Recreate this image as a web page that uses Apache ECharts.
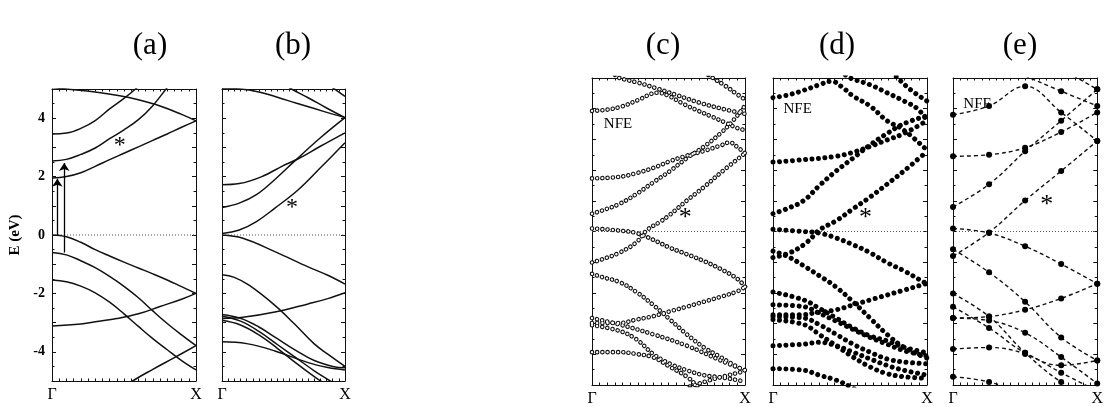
<!DOCTYPE html>
<html>
<head>
<meta charset="utf-8">
<title>band structures</title>
<script src="https://cdn.jsdelivr.net/npm/echarts@6/dist/echarts.min.js"></script>
<style>
html, body { margin: 0; padding: 0; background: #fff; }
#chart { width: 1106px; height: 407px; }
</style>
</head>
<body>
<div id="chart"></div>
<script>
// k runs from Γ (0) to X (1), energies
var panelNames = ['(a)', '(b)', '(c)', '(d)', '(e)'];
var kLabels = ['Γ', 'X'];
var eTicks = [-4, -2, 0, 2, 4];
var zeroLine = [[0, 0], [1, 0]];

// (a)
var aVal1 = [[0,0],[0.1,-0.06],[0.2,-0.25],[0.3,-0.5],[0.4,-0.72],[0.5,-0.93],[0.6,-1.13],[0.7,-1.33],[0.8,-1.54],[0.9,-1.77],[1,-2.0]];
var aVal2 = [[0,-0.6],[0.1,-0.68],[0.2,-0.88],[0.3,-1.12],[0.4,-1.42],[0.5,-1.76],[0.6,-2.15],[0.7,-2.6],[0.8,-3.03],[0.9,-3.42],[1,-3.79]];
var aVal3 = [[0,-1.54],[0.1,-1.6],[0.2,-1.75],[0.3,-1.98],[0.4,-2.3],[0.5,-2.7],[0.6,-3.13],[0.7,-3.55],[0.8,-3.93],[0.9,-4.3],[1,-4.62]];
var aVal4 = [[0,-3.12],[0.2,-3.05],[0.3,-2.97],[0.45,-2.86],[0.6,-2.7],[0.75,-2.45],[0.9,-2.2],[1,-2.0]];
var aVal5 = [[0.5,-5.25],[0.56,-5.0],[0.7,-4.6],[0.85,-4.2],[1,-3.79]];
var aCon1 = [[0,1.95],[0.1,2.0],[0.2,2.13],[0.3,2.35],[0.4,2.58],[0.5,2.8],[0.6,3.02],[0.7,3.24],[0.8,3.46],[0.9,3.69],[1,3.91]];
var aCon2 = [[0,2.53],[0.1,2.59],[0.2,2.76],[0.3,2.98],[0.4,3.3],[0.5,3.6],[0.6,3.95],[0.7,4.43],[0.8,5.05],[0.85,5.35]];
var aCon3 = [[0,3.46],[0.1,3.49],[0.2,3.65],[0.3,3.92],[0.4,4.32],[0.5,4.68],[0.58,5.0],[0.63,5.25]];
var aCon4 = [[0,5.05],[0.1,5.0],[0.3,4.9],[0.47,4.77],[0.6,4.63],[0.75,4.42],[0.9,4.13],[1,3.91]];
var arrowUp1 = [[0.037,0],[0.037,1.93]];
var arrowUp2 = [[0.085,-0.6],[0.085,2.47]];

// (b)
var bCon1 = [[0,0.05],[0.14,0.17],[0.28,0.46],[0.43,0.92],[0.62,1.55],[0.8,2.3],[1,3.16]];
var bCon2 = [[0,0.94],[0.14,1.09],[0.28,1.38],[0.43,1.9],[0.59,2.53],[0.8,3.33],[1,4.02]];
var bCon3 = [[0,1.72],[0.14,1.76],[0.33,2.01],[0.49,2.36],[0.62,2.61],[0.8,3.04],[1,3.5]];
var bCon4 = [[0,5.02],[0.15,5.0],[0.3,4.9],[0.45,4.72],[0.6,4.52],[0.75,4.33],[0.9,4.14],[1,4.02]];
var bCon5 = [[0.53,5.1],[0.565,5.0],[0.7,4.7],[0.85,4.35],[1,4.02]];
var bCon6 = [[0.88,5.1],[1,4.75]];
var bVal1 = [[0,0],[0.17,-0.11],[0.43,-0.57],[0.7,-1.09],[0.86,-1.38],[1,-1.68]];
var bVal2 = [[0,-1.36],[0.1,-1.45],[0.22,-1.72],[0.43,-2.41],[0.59,-3.05],[0.75,-3.73],[0.86,-4.08],[1,-4.5]];
var bVal3 = [[0,-2.86],[0.17,-2.82],[0.43,-2.64],[0.7,-2.36],[0.86,-2.18],[1,-1.98]];
var bVal4 = [[0,-2.72],[0.15,-2.85],[0.3,-3.15],[0.45,-3.55],[0.6,-3.95],[0.75,-4.3],[0.9,-4.5],[1,-4.55]];
var bVal5 = [[0,-2.78],[0.15,-2.95],[0.3,-3.3],[0.45,-3.75],[0.6,-4.2],[0.75,-4.65],[0.88,-5.0],[0.95,-5.2]];
var bVal6 = [[0,-2.92],[0.15,-3.08],[0.3,-3.42],[0.45,-3.88],[0.6,-4.38],[0.75,-4.85],[0.82,-5.05]];
var bVal7 = [[0,-3.66],[0.2,-3.72],[0.43,-3.97],[0.7,-4.37],[0.86,-4.54],[1,-4.62]];

// (c)
var cR  = [[0,-1.01],[0.07,-0.9],[0.18,-0.69],[0.29,-0.35],[0.36,0.05],[0.44,0.3],[0.51,0.55],[0.62,1.01],[0.73,1.44],[0.84,1.91],[1,2.55]];
var cV1 = [[0,0.1],[0.18,0.03],[0.29,-0.05],[0.4,-0.27],[0.51,-0.53],[0.62,-0.74],[0.73,-0.96],[0.84,-1.22],[0.95,-1.54],[1,-1.8]];
var cV2 = [[0,-1.38],[0.07,-1.49],[0.18,-1.65],[0.29,-1.97],[0.4,-2.39],[0.51,-2.87],[0.62,-3.35],[0.73,-3.77],[0.84,-4.09],[0.95,-4.41],[1,-4.52]];
var cV3 = [[0,-2.98],[0.18,-2.98],[0.29,-2.87],[0.4,-2.76],[0.51,-2.6],[0.62,-2.45],[0.73,-2.29],[0.84,-2.13],[0.95,-1.95],[1,-1.8]];
var cV4 = [[0,-2.82],[0.18,-3.03],[0.4,-3.35],[0.62,-3.72],[0.84,-4.2],[1,-4.52]];
var cV5 = [[0,-3.05],[0.18,-3.24],[0.29,-3.51],[0.4,-3.99],[0.51,-4.31],[0.62,-4.52],[0.73,-4.68],[0.84,-4.75],[0.95,-4.84],[1,-4.89]];
var cV6 = [[0,-3.93],[0.18,-3.93],[0.29,-3.99],[0.4,-4.1],[0.51,-4.41],[0.62,-4.73],[0.68,-5.0],[0.72,-5.2]];
var cV7 = [[0.64,-5.05],[0.8,-4.8],[1,-4.55]];
var cU2 = [[0,0.58],[0.07,0.69],[0.18,0.9],[0.29,1.22],[0.4,1.6],[0.51,1.97],[0.62,2.39],[0.73,2.76],[0.84,3.2],[0.92,3.6],[1,4.1]];
var cU3 = [[0,1.73],[0.18,1.78],[0.29,1.9],[0.4,2.07],[0.51,2.29],[0.62,2.47],[0.73,2.62],[0.84,2.8],[0.9,2.9],[0.95,2.75],[1,2.55]];
var cU4 = [[0,3.93],[0.1,3.97],[0.2,4.08],[0.3,4.28],[0.43,4.52],[0.5,4.42],[0.6,4.15],[0.7,3.92],[0.77,3.77],[0.87,3.55],[0.95,3.37],[1,3.3]];
var cU5 = [[0.15,5.1],[0.18,5.0],[0.3,4.85],[0.43,4.65],[0.55,4.45],[0.7,4.2],[0.85,4.0],[1,3.83]];
var cU6 = [[0.76,5.1],[0.79,5.0],[0.87,4.75],[0.94,4.5],[1,4.3]];

// (d)
var dR  = [[0,-0.85],[0.11,-0.69],[0.2,-0.43],[0.26,-0.16],[0.3,0.05],[0.41,0.35],[0.52,0.74],[0.63,1.12],[0.74,1.54],[0.85,1.97],[1,2.61]];
var dV1 = [[0,0.07],[0.2,0],[0.3,-0.05],[0.41,-0.21],[0.52,-0.43],[0.63,-0.69],[0.74,-1.01],[0.85,-1.28],[0.98,-1.65],[1,-1.7]];
var dV2 = [[0,-0.64],[0.09,-0.8],[0.2,-1.12],[0.3,-1.44],[0.41,-1.81],[0.52,-2.29],[0.63,-2.82],[0.74,-3.35],[0.85,-3.77],[0.98,-4.09],[1,-4.12]];
var dV3 = [[0,-2.71],[0.2,-2.71],[0.26,-2.66],[0.41,-2.55],[0.52,-2.39],[0.63,-2.23],[0.74,-2.07],[0.85,-1.91],[0.98,-1.72],[1,-1.7]];
var dV4 = [[0,-1.97],[0.2,-2.23],[0.3,-2.5],[0.41,-2.82],[0.52,-3.14],[0.63,-3.4],[0.74,-3.56],[0.85,-3.77],[1,-3.95]];
var dV5 = [[0,-2.39],[0.2,-2.45],[0.3,-2.66],[0.41,-2.92],[0.52,-3.19],[0.63,-3.45],[0.74,-3.67],[0.85,-3.88],[1,-4.05]];
var dV6 = [[0,-2.77],[0.2,-2.82],[0.3,-3.03],[0.41,-3.35],[0.52,-3.67],[0.63,-3.93],[0.74,-4.15],[0.85,-4.25],[1,-4.31]];
var dV7 = [[0,-2.87],[0.2,-3.03],[0.3,-3.35],[0.41,-3.72],[0.52,-4.09],[0.63,-4.41],[0.74,-4.63],[0.85,-4.73],[1,-4.78]];
var dV8 = [[0,-3.72],[0.2,-3.67],[0.3,-3.61],[0.41,-3.72],[0.52,-3.93],[0.63,-4.15],[0.74,-4.36],[0.85,-4.52],[1,-4.68]];
var dV9 = [[0,-4.47],[0.2,-4.52],[0.3,-4.68],[0.41,-4.84],[0.5,-5.05],[0.55,-5.2]];
var dU2 = [[0,0.58],[0.09,0.74],[0.2,1.01],[0.3,1.49],[0.41,1.97],[0.52,2.39],[0.63,2.82],[0.74,3.19],[0.85,3.51],[1,3.77]];
var dU3 = [[0,2.26],[0.2,2.34],[0.41,2.45],[0.54,2.61],[0.63,2.77],[0.74,2.98],[0.85,3.19],[1,3.61]];
var dU4 = [[0,4.36],[0.1,4.45],[0.2,4.6],[0.3,4.78],[0.38,4.89],[0.45,4.7],[0.52,4.41],[0.63,4.09],[0.74,3.61],[0.85,3.3],[1,2.65]];
var dU5 = [[0.47,5.1],[0.5,5.0],[0.63,4.78],[0.74,4.52],[0.85,4.25],[0.94,3.99],[1,3.61]];
var dU6 = [[0.8,5.05],[0.89,4.63],[1,4.25]];

// (e) only the computed k points
var eR  = [[0,-0.8],[0.25,-0.03],[0.5,1.01],[0.75,1.97],[1,2.95]];
var eV1 = [[0,0.1],[0.25,-0.05],[0.5,-0.48],[0.75,-1.06],[1,-1.7]];
var eV2 = [[0,-0.58],[0.25,-1.33],[0.5,-2.29],[0.75,-3.45],[1,-4.2]];
var eV3 = [[0,-2.82],[0.25,-2.77],[0.5,-2.55],[0.75,-2.18],[1,-1.7]];
var eV4 = [[0,-2.02],[0.25,-2.77],[0.5,-3.95],[0.75,-4.9],[1,-5.5]];
var eV5 = [[0,-2.45],[0.25,-3.14],[0.5,-3.95],[0.75,-4.36],[1,-4.2]];
var eV6 = [[0,-2.82],[0.25,-2.9],[0.5,-3.3],[0.75,-4.09],[1,-4.95]];
var eV7 = [[0,-3.83],[0.25,-3.78],[0.5,-3.99],[0.75,-4.6],[1,-5.2]];
var eV8 = [[0,-4.73],[0.25,-4.9],[0.5,-5.3]];
var eU2 = [[0,0.8],[0.25,1.54],[0.5,2.61],[0.75,3.61],[1,4.63]];
var eU3 = [[0,2.45],[0.25,2.5],[0.5,2.73],[0.75,3.24],[1,3.88]];
var eU4 = [[0,3.8],[0.25,4.09],[0.5,4.73],[0.75,3.88],[1,2.95]];
var eU5 = [[0.5,5.07],[0.75,4.57],[1,4.09]];
var eU6 = [[0.75,5.3],[1,4.63]];

var panelBands = [
  [aVal1, aVal2, aVal3, aVal4, aVal5, aCon1, aCon2, aCon3, aCon4],
  [bCon1, bCon2, bCon3, bCon4, bCon5, bCon6, bVal1, bVal2, bVal3, bVal4, bVal5, bVal6, bVal7],
  [cR, cV1, cV2, cV3, cV4, cV5, cV6, cV7, cU2, cU3, cU4, cU5, cU6],
  [dR, dV1, dV2, dV3, dV4, dV5, dV6, dV7, dV8, dV9, dU2, dU3, dU4, dU5, dU6],
  [eR, eV1, eV2, eV3, eV4, eV5, eV6, eV7, eV8, eU2, eU3, eU4, eU5, eU6]
];
var panelStyle = ['solid', 'solid', 'open', 'filled', 'dashed'];

var serif = '"Liberation Serif", "DejaVu Serif", serif';
var ink = '#111';

var grids = [
  { left: 52, top: 89, width: 144, height: 292 },
  { left: 222, top: 89, width: 123, height: 292 },
  { left: 592, top: 78, width: 153, height: 313 },
  { left: 773, top: 78, width: 154, height: 312 },
  { left: 953, top: 78, width: 157, height: 312 }
];
var titleX = [150, 293, 663, 837, 1020];

var xAxes = [], yAxes = [], series = [];

function tickAxis(o) {
  o.axisLine = { show: true, onZero: false, lineStyle: { color: ink, width: 1 } };
  o.axisTick = { show: true, inside: true, length: 4, lineStyle: { color: ink } };
  o.minorTick = { show: true, inside: true, length: 2.5, lineStyle: { color: ink } };
  o.splitLine = { show: false };
  o.minorSplitLine = { show: false };
  return o;
}

for (var i = 0; i < grids.length; i++) {
  var xb = tickAxis({ gridIndex: i, type: 'value', min: 0, max: 1, interval: 1, position: 'bottom' });
  xb.minorTick.splitNumber = 20;
  xb.axisLabel = {
    formatter: function (v) { return v === 0 ? kLabels[0] : (v === 1 ? kLabels[1] : ''); },
    fontFamily: serif, fontSize: 16, color: '#000', margin: 6
  };
  var xt = tickAxis({ gridIndex: i, type: 'value', min: 0, max: 1, interval: 1, position: 'top' });
  xt.minorTick.splitNumber = 20;
  xt.axisLabel = { show: false };
  xAxes.push(xb, xt);

  var yl = tickAxis({ gridIndex: i, type: 'value', min: -5, max: 5, interval: 1, position: 'left' });
  yl.minorTick.splitNumber = 2;
  if (i === 0) {
    yl.axisLabel = {
      formatter: function (v) { return eTicks.indexOf(v) >= 0 ? String(v) : ''; },
      fontFamily: serif, fontSize: 14, fontWeight: 'bold', color: '#000', margin: 7
    };
    yl.name = 'E (eV)';
    yl.nameLocation = 'middle';
    yl.nameGap = 29;
    yl.nameTextStyle = { fontFamily: serif, fontSize: 15, fontWeight: 'bold', color: '#000' };
  } else {
    yl.axisLabel = { show: false };
  }
  var yr = tickAxis({ gridIndex: i, type: 'value', min: -5, max: 5, interval: 1, position: 'right' });
  yr.minorTick.splitNumber = 2;
  yr.axisLabel = { show: false };
  yAxes.push(yl, yr);

  // fermi level
  series.push({
    type: 'line', xAxisIndex: 2 * i, yAxisIndex: 2 * i, data: zeroLine, symbol: 'none', silent: true,
    lineStyle: { color: '#555', width: 1, type: [1, 2] }, z: 2
  });

  panelBands[i].forEach(function (band) {
    var base = {
      type: 'line', xAxisIndex: 2 * i, yAxisIndex: 2 * i, data: band, smooth: 0.4,
      symbol: 'none', silent: true, clip: true, z: 3
    };
    var st = panelStyle[i];
    if (st === 'solid') {
      series.push(Object.assign({}, base, { lineStyle: { color: ink, width: 1.5 } }));
    } else if (st === 'open') {
      series.push(Object.assign({}, base, { lineStyle: { color: '#111', width: 4.6, type: [0.01, 5.2], cap: 'round' } }));
      series.push(Object.assign({}, base, { z: 4, lineStyle: { color: '#fff', width: 2.4, type: [0.01, 5.2], cap: 'round' } }));
    } else if (st === 'filled') {
      series.push(Object.assign({}, base, { lineStyle: { color: '#000', width: 5, type: [0.01, 6.5], cap: 'round' } }));
    } else {
      series.push(Object.assign({}, base, {
        symbol: 'circle', symbolSize: 6, showSymbol: true, itemStyle: { color: '#000' },
        lineStyle: { color: '#111', width: 1.4, type: [4, 3] }
      }));
    }
  });
}

// optical transitions in (a)
series.push({
  type: 'lines', coordinateSystem: 'cartesian2d', xAxisIndex: 0, yAxisIndex: 0, silent: true, z: 5,
  symbol: ['none', 'arrow'], symbolSize: 8,
  lineStyle: { color: '#000', width: 1.3, opacity: 1, curveness: 0 },
  data: [{ coords: arrowUp1 }, { coords: arrowUp2 }]
});

function note(i, pos, text, size) {
  return {
    type: 'scatter', xAxisIndex: 2 * i, yAxisIndex: 2 * i, data: [pos], symbolSize: 0, silent: true, z: 6,
    itemStyle: { opacity: 1 },
    label: { show: true, position: 'inside', formatter: text, fontFamily: serif, fontSize: size, color: '#000', opacity: 1 }
  };
}
series.push(note(0, [0.47, 3.05], '*', 24));
series.push(note(1, [0.57, 0.95], '*', 24));
series.push(note(2, [0.61, 0.45], '*', 26));
series.push(note(3, [0.6, 0.45], '*', 26));
series.push(note(4, [0.65, 0.85], '*', 26));
series.push(note(2, [0.17, 3.5], 'NFE', 15));
series.push(note(3, [0.16, 4.0], 'NFE', 15));
series.push(note(4, [0.17, 4.15], 'NFE', 15));

var graphics = panelNames.map(function (t, j) {
  return {
    type: 'text', x: titleX[j], y: 46, silent: true,
    style: { text: t, font: '31px "Liberation Serif"', fill: '#000', align: 'center', verticalAlign: 'middle', textAlign: 'center', textVerticalAlign: 'middle' }
  };
});

var myChart = echarts.init(document.getElementById('chart'), null, { renderer: 'canvas' });
myChart.setOption({
  backgroundColor: '#fff',
  animation: false,
  grid: grids,
  xAxis: xAxes,
  yAxis: yAxes,
  graphic: graphics,
  series: series
});
</script>
</body>
</html>
